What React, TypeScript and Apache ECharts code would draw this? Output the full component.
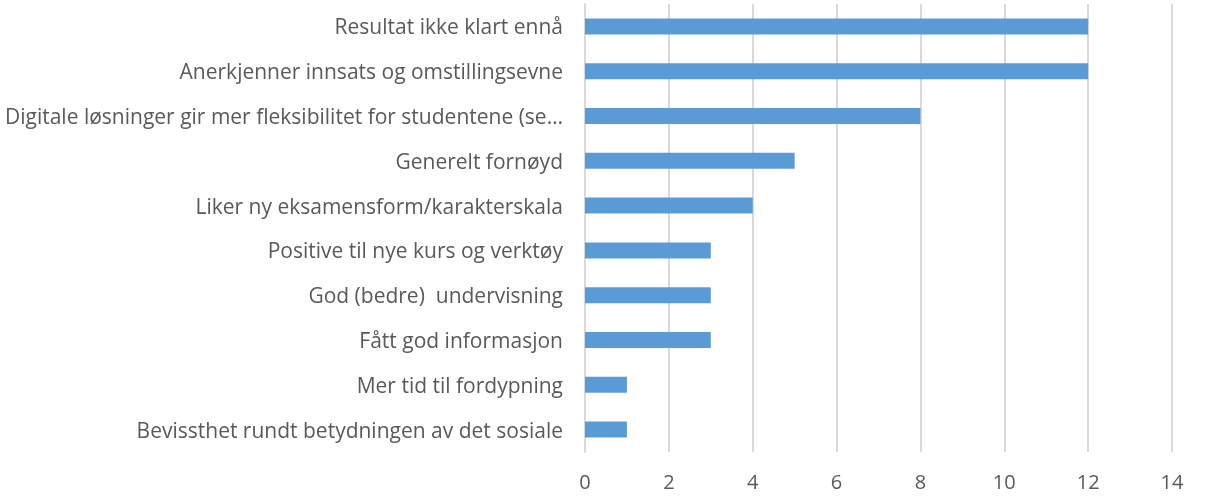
import React, { useEffect, useRef } from "react";
import * as echarts from "echarts";

const categories = [
  "Resultat ikke klart ennå",
  "Anerkjenner innsats og omstillingsevne",
  "Digitale løsninger gir mer fleksibilitet for studentene (se…",
  "Generelt fornøyd",
  "Liker ny eksamensform/karakterskala",
  "Positive til nye kurs og verktøy",
  "God (bedre)  undervisning",
  "Fått god informasjon",
  "Mer tid til fordypning",
  "Bevissthet rundt betydningen av det sosiale",
];
const values = [12, 12, 8, 5, 4, 3, 3, 3, 1, 1];
const xMin = 0;
const xMax = 14;
const xInterval = 2;

export default function App() {
  const ref = useRef<HTMLDivElement>(null);
  useEffect(() => {
    if (!ref.current) return;
    const chart = echarts.init(ref.current, undefined, { renderer: "svg" });
    const font = "'Open Sans', 'Noto Sans', sans-serif";
    chart.setOption({
      animation: false,
      grid: { left: 585, right: 38, top: 4, bottom: 44, containLabel: false },
      xAxis: {
        type: "value",
        min: xMin,
        max: xMax,
        interval: xInterval,
        axisLine: { show: false },
        axisTick: { show: false },
        axisLabel: {
          color: "#595959",
          fontSize: 20,
          fontFamily: font,
          margin: 19,
        },
        splitLine: { show: true, lineStyle: { color: "#d9d9d9", width: 2 } },
      },
      yAxis: {
        type: "category",
        inverse: true,
        data: categories,
        axisLine: { show: true, lineStyle: { color: "#d9d9d9", width: 2 } },
        axisTick: { show: false },
        axisLabel: {
          color: "#595959",
          fontSize: 21,
          fontFamily: font,
          margin: 22,
        },
      },
      series: [
        {
          type: "bar",
          data: values,
          barWidth: 16,
          itemStyle: { color: "#5b9bd5" },
        },
      ],
    });
    return () => chart.dispose();
  }, []);
  return (
    <div
      ref={ref}
      style={{ position: "fixed", left: 0, top: 0, width: 1210, height: 496 }}
    />
  );
}
